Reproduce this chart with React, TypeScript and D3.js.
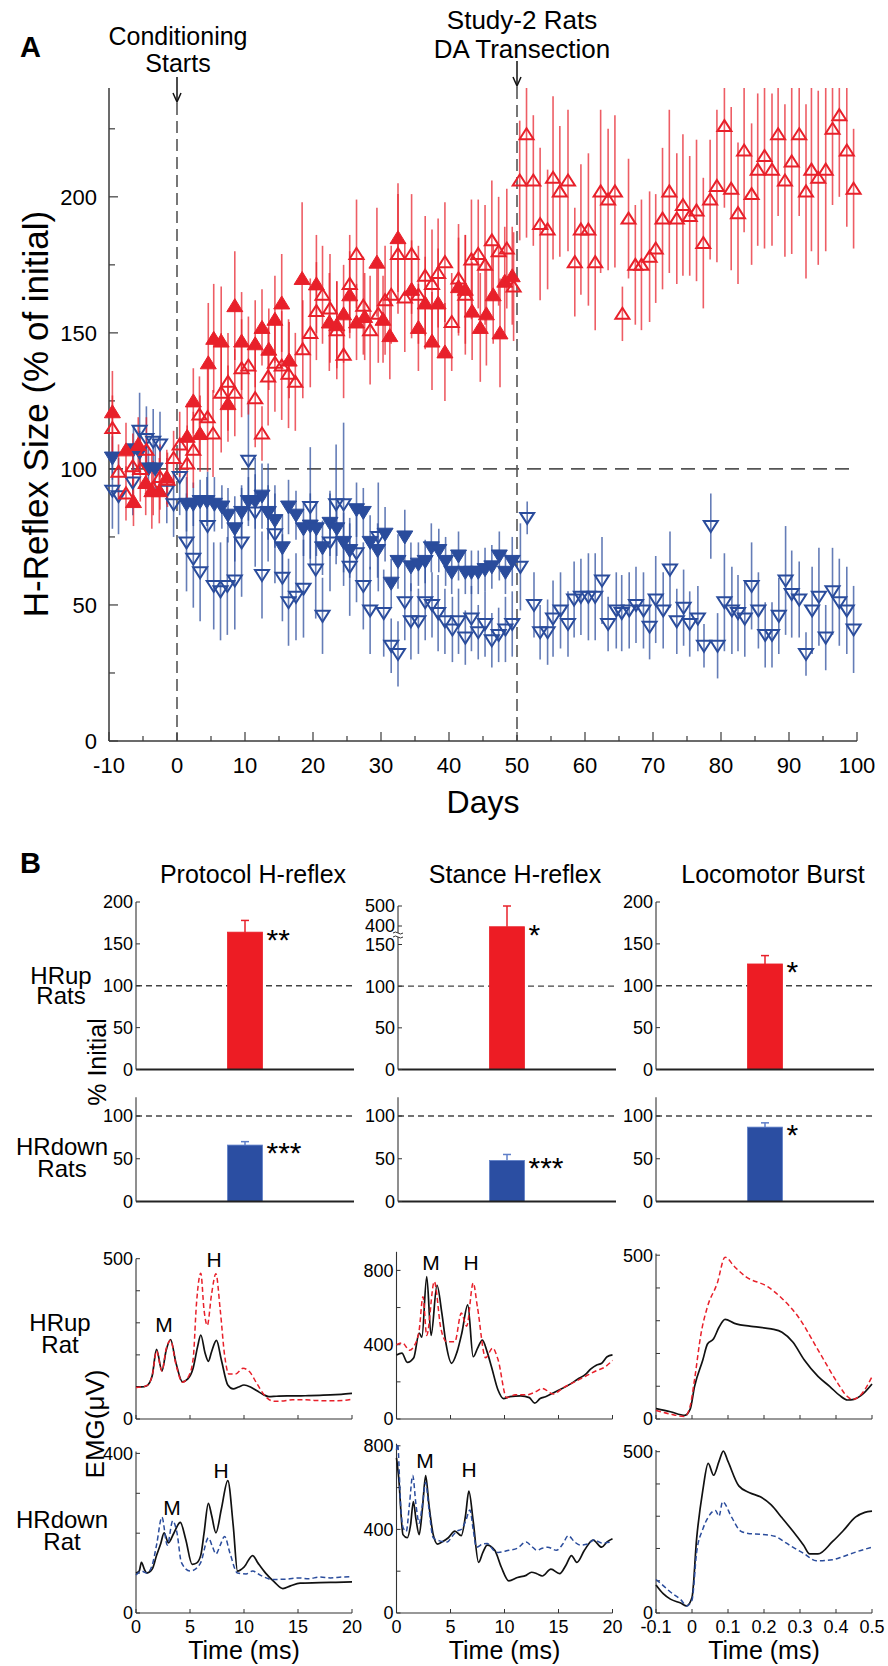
import React from 'react';
import * as d3 from 'd3';

const FONT = "'Liberation Sans', Arial, Helvetica, sans-serif";
const RED = '#e8202a';
const BLUE = '#2a4c9c';

// ---------- Panel A: [day, H-reflex size (% of initial), SE] ----------
const upFilled = [
  [-9.5, 121, 15], [-7.5, 107, 10], [-6.4, 88, 9], [-5.7, 109, 10], [-4.6, 95, 12], [-3.7, 92, 14], [-2.6, 92, 12], [-1.5, 97, 10],
  [1.5, 112, 12], [2.4, 125, 12], [3.4, 113, 14], [4.6, 139, 22], [5.4, 148, 20], [6.5, 147, 20], [7.5, 124, 14], [8.5, 160, 20],
  [9.5, 147, 18], [11.5, 146, 16], [12.5, 152, 14], [13.5, 144, 15], [14.4, 155, 16], [15.4, 161, 18], [16.5, 140, 14], [18.4, 170, 28],
  [20.5, 168, 18], [22.4, 154, 18], [23.5, 153, 16], [24.5, 157, 18], [25.4, 164, 16], [26.4, 154, 14], [27.6, 156, 16], [29.4, 176, 20],
  [30.3, 155, 16], [31.3, 149, 16], [32.5, 185, 20], [34.5, 166, 18], [35.5, 152, 16], [36.5, 161, 17], [37.5, 147, 18], [38.4, 161, 20],
  [39.4, 143, 18], [41.4, 167, 18], [42.4, 166, 20], [43.4, 158, 18], [44.6, 152, 20], [45.5, 157, 19], [46.5, 164, 18], [47.5, 150, 20],
  [48.2, 169, 20], [49.3, 171, 18],
];

const upOpen = [
  [-9.5, 115, 12], [-8.6, 99, 10], [-7.5, 91, 10], [-6.5, 101, 12], [-5.4, 100, 12], [-4.5, 107, 12], [-3.5, 93, 10], [-2.5, 97, 12],
  [-1.4, 96, 10], [-0.5, 104, 10], [0.4, 109, 12], [1.5, 102, 14], [2.4, 107, 14], [3.3, 120, 14], [4.5, 119, 20], [5.3, 113, 16],
  [6.5, 128, 22], [7.5, 132, 18], [8.5, 128, 16], [9.5, 137, 18], [10.5, 138, 18], [11.5, 126, 18], [12.5, 113, 10], [13.4, 134, 18],
  [14.4, 139, 18], [15.4, 138, 20], [16.4, 135, 20], [17.4, 132, 18], [18.5, 144, 18], [19.6, 150, 20], [20.5, 158, 18], [21.4, 164, 18],
  [22.5, 159, 20], [23.5, 151, 18], [24.5, 142, 16], [25.4, 168, 18], [26.4, 179, 20], [27.4, 160, 18], [28.4, 151, 20], [29.6, 157, 18],
  [30.6, 162, 20], [31.5, 164, 18], [32.5, 179, 22], [33.5, 163, 20], [34.5, 179, 22], [35.5, 164, 18], [36.5, 171, 22], [37.5, 168, 20],
  [38.4, 172, 20], [39.4, 176, 22], [40.4, 154, 18], [41.4, 170, 20], [42.4, 164, 22], [43.3, 177, 22], [44.3, 179, 20], [45.3, 175, 22],
  [46.3, 184, 22], [47.3, 180, 20], [48.5, 181, 22], [49.5, 167, 20], [50.4, 206, 22], [51.4, 223, 38], [52.4, 206, 24], [53.4, 190, 28],
  [54.5, 188, 22], [55.3, 207, 30], [56.3, 202, 24], [57.5, 206, 26], [58.5, 176, 20], [59.4, 188, 24], [60.5, 188, 28], [61.5, 176, 25],
  [62.3, 202, 30], [63.4, 199, 26], [64.4, 202, 28], [65.5, 157, 10], [66.4, 192, 22], [67.4, 175, 22], [68.3, 175, 24], [69.5, 178, 24],
  [70.4, 181, 20], [71.4, 192, 26], [72.4, 202, 30], [73.5, 192, 24], [74.4, 197, 26], [75.4, 193, 22], [76.4, 195, 26], [77.4, 183, 24],
  [78.4, 199, 22], [79.4, 204, 28], [80.5, 226, 30], [81.5, 203, 30], [82.5, 194, 26], [83.4, 217, 30], [84.5, 201, 26], [85.4, 210, 28],
  [86.4, 215, 34], [87.5, 210, 28], [88.4, 223, 30], [89.4, 206, 28], [90.4, 213, 34], [91.5, 223, 30], [92.5, 202, 32], [93.3, 210, 30],
  [94.3, 207, 32], [95.4, 210, 30], [96.4, 225, 28], [97.4, 230, 30], [98.5, 217, 28], [99.5, 203, 22],
];

const downFilled = [
  [-9.5, 104, 8], [-6.4, 107, 9], [-5.5, 106, 8], [-4.2, 100, 8], [-3.2, 100, 9],
  [1.4, 87, 10], [2.4, 87, 8], [3.4, 88, 8], [4.4, 88, 9], [5.5, 87, 10], [6.6, 86, 8], [7.5, 83, 10], [8.5, 78, 12],
  [9.5, 84, 10], [10.5, 88, 9], [11.5, 88, 10], [12.5, 90, 12], [13.4, 84, 10], [14.4, 81, 10], [15.5, 71, 12], [16.4, 86, 10],
  [17.5, 83, 9], [18.6, 78, 10], [19.6, 79, 12], [20.5, 78, 10], [21.4, 71, 10], [22.5, 80, 12], [23.5, 78, 10], [24.5, 73, 11],
  [25.4, 70, 10], [26.4, 85, 10], [27.4, 84, 9], [28.4, 73, 10], [29.5, 70, 10], [30.6, 76, 10], [31.5, 58, 9], [32.5, 66, 10],
  [33.5, 75, 10], [34.4, 64, 9], [35.5, 65, 8], [36.5, 66, 8], [37.4, 71, 9], [38.5, 70, 8], [39.5, 66, 9], [40.4, 62, 8],
  [41.4, 68, 9], [42.4, 62, 8], [43.3, 62, 8], [44.3, 62, 8], [45.3, 63, 8], [46.3, 64, 8], [47.4, 68, 9], [48.3, 62, 8], [49.3, 66, 9],
];

const downOpen = [
  [-9.5, 92, 14], [-8.6, 90, 14], [-6.5, 95, 12], [-5.5, 114, 14], [-4.5, 111, 12], [-3.5, 110, 12], [-2.5, 109, 12], [-1.5, 92, 12],
  [-0.5, 87, 12], [0.4, 97, 14], [1.4, 73, 18], [2.4, 67, 18], [3.4, 62, 18], [4.5, 79, 20], [5.4, 57, 16], [6.4, 55, 18],
  [7.4, 57, 18], [8.5, 59, 18], [9.5, 73, 20], [10.5, 103, 22], [11.5, 84, 20], [12.5, 61, 16], [13.4, 84, 18], [14.4, 76, 18],
  [15.5, 60, 16], [16.4, 51, 16], [17.5, 53, 16], [18.6, 56, 18], [19.6, 86, 22], [20.4, 63, 18], [21.4, 46, 14], [22.5, 73, 18],
  [23.4, 87, 22], [24.5, 87, 30], [25.4, 64, 18], [26.4, 69, 18], [27.4, 57, 16], [28.4, 48, 16], [29.6, 75, 20], [30.4, 47, 16],
  [31.5, 35, 10], [32.5, 32, 12], [33.5, 51, 14], [34.4, 44, 14], [35.5, 44, 12], [36.5, 51, 14], [37.5, 50, 12], [38.4, 47, 14],
  [39.4, 44, 12], [40.5, 41, 12], [41.4, 44, 12], [42.4, 38, 10], [43.3, 45, 12], [44.3, 40, 10], [45.3, 43, 12], [46.3, 37, 10],
  [47.3, 39, 10], [48.3, 41, 12], [49.3, 43, 12], [50.5, 64, 16], [51.5, 82, 6], [52.5, 50, 12], [53.4, 40, 10], [54.5, 40, 12],
  [55.3, 45, 14], [56.4, 48, 14], [57.5, 43, 12], [58.4, 52, 14], [59.4, 53, 14], [60.5, 53, 16], [61.5, 53, 16], [62.5, 59, 16],
  [63.4, 43, 10], [64.6, 48, 14], [65.4, 47, 14], [66.5, 48, 14], [67.5, 50, 14], [68.6, 48, 14], [69.5, 42, 12], [70.4, 52, 16],
  [71.5, 48, 14], [72.5, 63, 14], [73.5, 44, 12], [74.5, 49, 14], [75.4, 43, 12], [76.6, 45, 12], [77.5, 35, 8], [78.5, 79, 12],
  [79.5, 35, 12], [80.5, 51, 18], [81.6, 48, 16], [82.5, 47, 14], [83.5, 45, 14], [84.5, 57, 16], [85.5, 48, 14], [86.5, 39, 12],
  [87.5, 39, 12], [88.5, 46, 14], [89.5, 59, 20], [90.4, 54, 16], [91.5, 52, 14], [92.5, 32, 8], [93.4, 48, 16], [94.4, 53, 18],
  [95.4, 38, 12], [96.4, 55, 16], [97.4, 51, 16], [98.5, 48, 16], [99.5, 41, 16],
];

const dayTicks = [-10, 0, 10, 20, 30, 40, 50, 60, 70, 80, 90, 100];
const dayMinor = d3.range(-5, 100, 10);
const sizeTicks = [0, 50, 100, 150, 200];
const sizeMinor = [25, 75, 125, 175, 225];

// ---------- Panel B bars ----------
const measureTitles = ['Protocol H-reflex', 'Stance H-reflex', 'Locomotor Burst'];
const upMeans = [164, 390, 126];
const upSE = [14, 110, 10];
const upStars = ['**', '*', '*'];
const downMeans = [66, 48, 87];
const downSE = [4, 7, 5];
const downStars = ['***', '***', '*'];

// ---------- Panel B EMG traces: [time, EMG (uV)] ----------
const protUpBlack = [[0, 100], [0.5, 100], [1, 104], [1.5, 135], [1.9, 217], [2.4, 150], [2.8, 215], [3.2, 248], [3.7, 175], [4.3, 116], [4.8, 125], [5.3, 160], [5.7, 225], [6.0, 262], [6.4, 205], [6.7, 180], [7.0, 210], [7.45, 245], [7.9, 185], [8.5, 106], [9.0, 94], [9.5, 100], [10.0, 106], [10.6, 100], [11.2, 88], [11.8, 76], [12.3, 70], [13, 71], [14, 72], [15, 72], [16, 73], [17, 74], [18, 75], [19, 77], [20, 80]];
const protUpRed = [[0, 98], [0.5, 100], [1, 104], [1.5, 135], [1.9, 212], [2.4, 150], [2.8, 220], [3.2, 245], [3.7, 170], [4.3, 115], [4.9, 135], [5.3, 190], [5.6, 360], [6.0, 455], [6.3, 340], [6.6, 292], [7.0, 390], [7.4, 453], [7.8, 340], [8.2, 200], [8.6, 140], [9.2, 140], [9.9, 158], [10.5, 148], [11.2, 110], [12, 70], [12.8, 55], [13.5, 56], [14.5, 60], [15.5, 60], [16.5, 58], [17.5, 57], [18.5, 57], [19.3, 58], [20, 62]];
const stanceUpBlack = [[0, 345], [0.5, 355], [1.0, 305], [1.6, 330], [2.1, 463], [2.35, 440], [2.8, 766], [3.2, 450], [3.75, 720], [4.2, 570], [4.6, 400], [5.1, 300], [5.6, 360], [6.05, 463], [6.6, 614], [7.1, 335], [7.5, 380], [7.95, 425], [8.4, 360], [8.8, 280], [9.4, 156], [9.9, 110], [10.5, 120], [11.5, 125], [12.3, 115], [12.8, 85], [13.3, 110], [13.8, 120], [14.5, 140], [15.2, 160], [16, 185], [16.8, 215], [17.5, 240], [18, 270], [18.5, 290], [19, 300], [19.5, 335], [20, 345]];
const stanceUpRed = [[0, 400], [0.55, 410], [1.2, 370], [1.7, 400], [2.1, 479], [2.45, 658], [2.8, 450], [3.5, 740], [4.1, 490], [4.65, 416], [5.4, 416], [6.0, 570], [6.5, 500], [7.1, 732], [7.5, 600], [8.25, 330], [8.9, 382], [9.4, 320], [10.2, 115], [11, 130], [12, 130], [13, 150], [13.5, 165], [14.5, 135], [15.5, 170], [16.5, 200], [17.5, 230], [18.5, 260], [19.3, 280], [20, 315]];
const locoUpBlack = [[-0.1, 32], [-0.06, 22], [-0.02, 11], [-0.005, 30], [0.007, 99], [0.03, 180], [0.043, 229], [0.06, 245], [0.075, 280], [0.092, 304], [0.118, 292], [0.171, 282], [0.22, 275], [0.25, 265], [0.28, 235], [0.312, 180], [0.35, 130], [0.383, 99], [0.41, 72], [0.432, 58], [0.45, 60], [0.47, 72], [0.5, 107]];
const locoUpRed = [[-0.1, 26], [-0.06, 15], [-0.02, 8], [-0.005, 40], [0.007, 120], [0.025, 260], [0.043, 343], [0.07, 414], [0.092, 494], [0.118, 465], [0.15, 434], [0.21, 404], [0.25, 368], [0.295, 312], [0.35, 211], [0.405, 109], [0.43, 70], [0.445, 60], [0.47, 75], [0.5, 129]];
const protDownBlack = [[0, 100], [0.3, 105], [0.5, 127], [0.8, 108], [1.0, 100], [1.5, 110], [1.9, 144], [2.3, 175], [2.6, 201], [3.0, 176], [3.5, 200], [4.1, 227], [4.6, 185], [5.2, 122], [5.6, 125], [6.0, 145], [6.3, 200], [6.7, 275], [7.0, 245], [7.4, 201], [7.9, 260], [8.5, 332], [9.0, 220], [9.4, 105], [10.0, 115], [10.8, 144], [11.3, 125], [12, 100], [12.8, 78], [13.6, 61], [14.3, 68], [15.2, 75], [17, 76], [18.5, 77], [20, 78]];
const protDownBlue = [[0, 95], [0.5, 105], [1.0, 100], [1.5, 120], [1.9, 170], [2.4, 240], [2.9, 170], [3.4, 231], [3.8, 200], [4.2, 127], [5.0, 105], [5.5, 110], [6.0, 127], [6.7, 188], [7.1, 165], [7.4, 148], [7.8, 170], [8.2, 192], [8.7, 150], [9.4, 100], [10.2, 98], [10.8, 105], [11.5, 95], [12.6, 84], [14, 85], [15, 88], [16, 86], [17, 90], [18, 88], [19, 90], [20, 91]];
const stanceDownBlack = [[0, 742], [0.2, 650], [0.6, 375], [1.0, 360], [1.3, 420], [1.56, 533], [1.8, 450], [2.1, 375], [2.4, 500], [2.7, 658], [3.0, 520], [3.4, 375], [3.8, 330], [4.2, 340], [4.8, 360], [5.4, 392], [6.0, 370], [6.4, 470], [6.7, 583], [7.1, 440], [7.6, 242], [8.0, 290], [8.4, 325], [9.1, 300], [9.7, 220], [10.4, 154], [11.2, 170], [12.0, 180], [12.5, 195], [13.0, 188], [13.5, 177], [14.3, 210], [15.1, 188], [15.7, 230], [16.2, 275], [16.7, 242], [17.4, 300], [18.2, 349], [19, 315], [19.5, 340], [20, 355]];
const stanceDownBlue = [[0, 780], [0.1, 810], [0.4, 500], [0.6, 410], [0.9, 390], [1.2, 520], [1.5, 658], [1.8, 520], [2.1, 430], [2.4, 520], [2.7, 625], [3.0, 500], [3.4, 360], [4.0, 345], [4.7, 340], [5.2, 370], [5.6, 392], [6.0, 400], [6.4, 440], [6.8, 493], [7.1, 400], [7.4, 315], [8.0, 330], [8.4, 332], [9.0, 300], [9.4, 290], [10.4, 300], [11.2, 310], [12.0, 340], [12.5, 320], [13, 300], [13.5, 310], [14, 315], [14.8, 300], [15.4, 330], [15.9, 370], [16.5, 340], [17, 325], [17.7, 330], [18.3, 350], [19, 335], [20, 340]];
const locoDownBlack = [[-0.1, 87], [-0.08, 60], [-0.06, 43], [-0.03, 30], [-0.015, 22], [0, 48], [0.013, 232], [0.03, 380], [0.045, 464], [0.06, 427], [0.075, 470], [0.087, 502], [0.1, 470], [0.13, 394], [0.16, 373], [0.19, 360], [0.22, 335], [0.25, 295], [0.28, 254], [0.31, 210], [0.327, 183], [0.35, 183], [0.39, 221], [0.42, 255], [0.454, 297], [0.48, 312], [0.5, 316]];
const locoDownBlue = [[-0.1, 104], [-0.08, 85], [-0.06, 65], [-0.03, 40], [-0.015, 22], [0, 40], [0.013, 189], [0.03, 260], [0.045, 297], [0.065, 318], [0.075, 300], [0.085, 345], [0.11, 297], [0.135, 254], [0.16, 246], [0.19, 244], [0.23, 238], [0.26, 218], [0.28, 204], [0.31, 185], [0.345, 162], [0.39, 165], [0.42, 175], [0.455, 189], [0.5, 204]];

const msTicks = [0, 5, 10, 15, 20];
const locoTicks = [-0.1, 0, 0.1, 0.2, 0.3, 0.4, 0.5];

// ---------- Panel A ----------
const xA = d3.scaleLinear().domain([-10, 100]).range([109, 857]);
const yA = d3.scaleLinear().domain([0, 240]).range([741, 88]);

const TRI_UP = 'M0,-7L8,6L-8,6Z';
const TRI_DOWN = 'M0,7L8,-6L-8,-6Z';
const TRI_UP_O = 'M0,-6L7,5L-7,5Z';
const TRI_DOWN_O = 'M0,6L7,-5L-7,-5Z';

function Series({ data, color, up, filled }) {
  const path = up ? (filled ? TRI_UP : TRI_UP_O) : (filled ? TRI_DOWN : TRI_DOWN_O);
  return (
    <g>
      {data.map((d, i) => (
        <path key={i} transform={`translate(${xA(d[0])},${yA(d[1])})`} d={path}
          fill={filled ? color : 'none'} stroke={color} strokeWidth={filled ? 1 : 2} strokeLinejoin="miter" />
      ))}
    </g>
  );
}

function ErrBars({ data, color }) {
  return (
    <g stroke={color} strokeWidth={1.6} opacity={0.72}>
      {data.map((d, i) => (
        <line key={i} x1={xA(d[0])} x2={xA(d[0])}
          y1={yA(Math.min(240, d[1] + d[2]))} y2={yA(Math.max(0, d[1] - d[2]))} />
      ))}
    </g>
  );
}

function PanelA() {
  const axisColor = '#3a3a3a';
  return (
    <g fontFamily={FONT}>
      <text x={20} y={57} fontSize={29} fontWeight="bold">A</text>
      {/* annotations */}
      <text x={178} y={45} fontSize={25} textAnchor="middle">Conditioning</text>
      <text x={178} y={72} fontSize={25} textAnchor="middle">Starts</text>
      <line x1={xA(0)} x2={xA(0)} y1={77} y2={101} stroke="#111" strokeWidth={1.5} />
      <path d={`M${xA(0) - 4},${93}L${xA(0)},${102}L${xA(0) + 4},${93}`} fill="none" stroke="#111" strokeWidth={1.5} />
      <text x={522} y={29} fontSize={26} textAnchor="middle">Study-2 Rats</text>
      <text x={522} y={57.5} fontSize={26} textAnchor="middle">DA Transection</text>
      <line x1={xA(50)} x2={xA(50)} y1={61} y2={85} stroke="#111" strokeWidth={1.5} />
      <path d={`M${xA(50) - 4},${77}L${xA(50)},${86}L${xA(50) + 4},${77}`} fill="none" stroke="#111" strokeWidth={1.5} />

      {/* reference lines */}
      <line x1={xA(-10)} x2={xA(100)} y1={yA(100)} y2={yA(100)} stroke="#555" strokeWidth={1.6} strokeDasharray="14,8" />
      <line x1={xA(0)} x2={xA(0)} y1={103} y2={yA(0)} stroke="#555" strokeWidth={1.6} strokeDasharray="12,6" />
      <line x1={xA(50)} x2={xA(50)} y1={87} y2={yA(0)} stroke="#555" strokeWidth={1.6} strokeDasharray="12,6" />

      {/* axes */}
      <line x1={xA(-10)} x2={xA(-10)} y1={yA(240)} y2={yA(0)} stroke={axisColor} strokeWidth={1.5} />
      <line x1={xA(-10)} x2={xA(100)} y1={yA(0)} y2={yA(0)} stroke={axisColor} strokeWidth={1.5} />
      {sizeTicks.map(t => (
        <g key={t}>
          <line x1={xA(-10)} x2={xA(-10) + 9} y1={yA(t)} y2={yA(t)} stroke={axisColor} strokeWidth={1.2} />
          <text x={97} y={yA(t)} dy="0.36em" fontSize={22} textAnchor="end">{t}</text>
        </g>
      ))}
      {sizeMinor.map(t => (
        <line key={t} x1={xA(-10)} x2={xA(-10) + 6} y1={yA(t)} y2={yA(t)} stroke={axisColor} strokeWidth={1.2} />
      ))}
      {dayTicks.map(t => (
        <g key={t}>
          <line x1={xA(t)} x2={xA(t)} y1={yA(0)} y2={yA(0) - 9} stroke={axisColor} strokeWidth={1.2} />
          <text x={xA(t)} y={773} fontSize={22} textAnchor="middle">{t}</text>
        </g>
      ))}
      {dayMinor.map(t => (
        <line key={t} x1={xA(t)} x2={xA(t)} y1={yA(0)} y2={yA(0) - 5} stroke={axisColor} strokeWidth={1.2} />
      ))}
      <text x={483} y={813} fontSize={32} textAnchor="middle">Days</text>
      <text transform="translate(48,414) rotate(-90)" fontSize={35} textAnchor="middle">H-Reflex Size (% of initial)</text>

      {/* data */}
      <ErrBars data={downOpen} color={BLUE} />
      <ErrBars data={downFilled} color={BLUE} />
      <ErrBars data={upOpen} color={RED} />
      <ErrBars data={upFilled} color={RED} />
      <Series data={downOpen} color={BLUE} up={false} filled={false} />
      <Series data={downFilled} color={BLUE} up={false} filled={true} />
      <Series data={upFilled} color={RED} up={true} filled={true} />
      <Series data={upOpen} color={RED} up={true} filled={false} />
    </g>
  );
}

// ---------- Panel B bars ----------
const colX = [136, 398, 656];
const PW = 218;

const yUpStd = d3.scaleLinear().domain([0, 200]).range([1069.5, 902]);
const yUpStance = d3.scaleLinear().domain([0, 150, 400, 500]).range([1069.5, 944.5, 926, 906]);
const yDown = d3.scaleLinear().domain([0, 100]).range([1201.5, 1116]);

function BarPanel({ x0, y, axisTopVal, ticks, mean, se, color, errColor, stars, broken }) {
  const x = d3.scaleLinear().domain([0, 2]).range([x0, x0 + PW]);
  const bw = 35;
  const top = y(mean);
  const cx = x(1);
  return (
    <g fontFamily={FONT}>
      <line x1={x(0)} x2={x(2)} y1={y(100)} y2={y(100)} stroke="#444" strokeWidth={1.3} strokeDasharray="6,4" />
      <rect x={cx - bw / 2} y={top} width={bw} height={y(0) - top} fill={color} stroke={errColor} strokeWidth={0.8} />
      <line x1={cx} x2={cx} y1={top} y2={y(mean + se)} stroke={errColor} strokeWidth={1.5} />
      <line x1={cx - 4} x2={cx + 4} y1={y(mean + se)} y2={y(mean + se)} stroke={errColor} strokeWidth={1.5} />
      <text x={cx + bw / 2 + 4} y={top + 18} fontSize={30}>{stars}</text>
      <line x1={x0} x2={x0} y1={y(axisTopVal)} y2={y(0)} stroke="#333" strokeWidth={1.1} />
      <line x1={x0} x2={x(2)} y1={y(0)} y2={y(0)} stroke="#222" strokeWidth={2} />
      {ticks.map(t => (
        <g key={t}>
          <line x1={x0} x2={x0 + 4} y1={y(t)} y2={y(t)} stroke="#333" strokeWidth={1} />
          <text x={x0 - 3} y={y(t)} dy="0.36em" fontSize={18} textAnchor="end">{t}</text>
        </g>
      ))}
      {broken && (
        <g>
          <rect x={x0 - 4} y={933} width={8} height={4} fill="#fff" />
          <path d={`M${x0 - 5},${933}q2.5,-2 5,0t5,0M${x0 - 5},${937}q2.5,-2 5,0t5,0`} fill="none" stroke="#333" strokeWidth={1} />
        </g>
      )}
    </g>
  );
}

// ---------- Panel B EMG ----------
const emgX0 = [136, 396.5, 656];
const EW = 216;

function EmgPanel({ x0, y0, refVal, refY, topVal, xDomain, xTicks, yTicks, yLabels, traces, showX, marks }) {
  const x = d3.scaleLinear().domain(xDomain).range([x0, x0 + EW]);
  const y = d3.scaleLinear().domain([0, refVal]).range([y0, refY]);
  const line = d3.line().x(d => x(d[0])).y(d => y(d[1])).curve(d3.curveMonotoneX);
  return (
    <g fontFamily={FONT}>
      <line x1={x0} x2={x0} y1={y(topVal)} y2={y0} stroke="#333" strokeWidth={1.1} />
      <line x1={x0} x2={x0 + EW} y1={y0} y2={y0} stroke="#333" strokeWidth={1.1} />
      {yTicks.map(t => (
        <line key={t} x1={x0} x2={x0 + 4} y1={y(t)} y2={y(t)} stroke="#333" strokeWidth={1} />
      ))}
      {yLabels.map(t => (
        <text key={t} x={x0 - 3} y={y(t)} dy="0.36em" fontSize={18} textAnchor="end">{t}</text>
      ))}
      {xTicks.map(t => (
        <g key={t}>
          <line x1={x(t)} x2={x(t)} y1={y0} y2={y0 - 4} stroke="#333" strokeWidth={1} />
          {showX && <text x={x(t)} y={1633} fontSize={18} textAnchor="middle">{t}</text>}
        </g>
      ))}
      {traces.map((tr, i) => (
        <path key={i} d={line(tr.data)} fill="none" stroke={tr.color} strokeWidth={tr.dash ? 1.5 : 1.7}
          strokeDasharray={tr.dash ? '5,3' : undefined} />
      ))}
      {marks.map((m, i) => (
        <text key={i} x={m[0]} y={m[1]} fontSize={21} textAnchor="middle">{m[2]}</text>
      ))}
      {showX && <text x={x0 + EW / 2} y={1659} fontSize={25} textAnchor="middle">Time (ms)</text>}
    </g>
  );
}

function PanelB() {
  return (
    <g fontFamily={FONT}>
      <text x={20} y={873} fontSize={29} fontWeight="bold">B</text>
      {measureTitles.map((t, i) => (
        <text key={t} x={colX[i] + 117} y={883} fontSize={25} textAnchor="middle">{t}</text>
      ))}
      <text x={61} y={984} fontSize={24} textAnchor="middle">HRup</text>
      <text x={61} y={1004} fontSize={24} textAnchor="middle">Rats</text>
      <text x={62} y={1155} fontSize={24} textAnchor="middle">HRdown</text>
      <text x={62} y={1177} fontSize={24} textAnchor="middle">Rats</text>
      <text transform="translate(106,1062) rotate(-90)" fontSize={25} textAnchor="middle">% Initial</text>

      {[0, 1, 2].map(i => (
        <BarPanel key={'u' + i} x0={colX[i]} y={i === 1 ? yUpStance : yUpStd} axisTopVal={i === 1 ? 500 : 200}
          ticks={i === 1 ? [0, 50, 100, 150, 400, 500] : [0, 50, 100, 150, 200]}
          mean={upMeans[i]} se={upSE[i]} color="#ed1c24" errColor={RED} stars={upStars[i]} broken={i === 1} />
      ))}
      {[0, 1, 2].map(i => (
        <BarPanel key={'d' + i} x0={colX[i]} y={yDown} axisTopVal={122} ticks={[0, 50, 100]}
          mean={downMeans[i]} se={downSE[i]} color="#2b4ea2" errColor="#5f7fc8" stars={downStars[i]} broken={false} />
      ))}

      <text x={60} y={1331} fontSize={24} textAnchor="middle">HRup</text>
      <text x={60} y={1353} fontSize={24} textAnchor="middle">Rat</text>
      <text x={62} y={1528} fontSize={24} textAnchor="middle">HRdown</text>
      <text x={62} y={1550} fontSize={24} textAnchor="middle">Rat</text>
      <text transform="translate(104,1424) rotate(-90)" fontSize={26} textAnchor="middle">EMG(μV)</text>

      <EmgPanel x0={emgX0[0]} y0={1419} refVal={500} refY={1258.7} topVal={500} xDomain={[0, 20]} xTicks={msTicks}
        yTicks={[0, 100, 200, 300, 400, 500]} yLabels={[0, 500]} showX={false}
        traces={[{ data: protUpBlack, color: '#111' }, { data: protUpRed, color: RED, dash: true }]}
        marks={[[164, 1332, 'M'], [214, 1267, 'H']]} />
      <EmgPanel x0={emgX0[1]} y0={1419} refVal={800} refY={1270.4} topVal={900} xDomain={[0, 20]} xTicks={msTicks}
        yTicks={[0, 200, 400, 600, 800]} yLabels={[0, 400, 800]} showX={false}
        traces={[{ data: stanceUpBlack, color: '#111' }, { data: stanceUpRed, color: RED, dash: true }]}
        marks={[[431, 1270, 'M'], [471, 1270, 'H']]} />
      <EmgPanel x0={emgX0[2]} y0={1419} refVal={500} refY={1255.2} topVal={505} xDomain={[-0.1, 0.5]} xTicks={locoTicks}
        yTicks={[0, 100, 200, 300, 400, 500]} yLabels={[0, 500]} showX={false}
        traces={[{ data: locoUpBlack, color: '#111' }, { data: locoUpRed, color: RED, dash: true }]}
        marks={[]} />

      <EmgPanel x0={emgX0[0]} y0={1613} refVal={400} refY={1453.4} topVal={405} xDomain={[0, 20]} xTicks={msTicks}
        yTicks={[0, 100, 200, 300, 400]} yLabels={[0, 400]} showX={true}
        traces={[{ data: protDownBlack, color: '#111' }, { data: protDownBlue, color: BLUE, dash: true }]}
        marks={[[172, 1515, 'M'], [221, 1478, 'H']]} />
      <EmgPanel x0={emgX0[1]} y0={1613} refVal={800} refY={1445.8} topVal={810} xDomain={[0, 20]} xTicks={msTicks}
        yTicks={[0, 200, 400, 600, 800]} yLabels={[0, 400, 800]} showX={true}
        traces={[{ data: stanceDownBlack, color: '#111' }, { data: stanceDownBlue, color: BLUE, dash: true }]}
        marks={[[425, 1468, 'M'], [469, 1477, 'H']]} />
      <EmgPanel x0={emgX0[2]} y0={1613} refVal={500} refY={1451.7} topVal={505} xDomain={[-0.1, 0.5]} xTicks={locoTicks}
        yTicks={[0, 100, 200, 300, 400, 500]} yLabels={[0, 500]} showX={true}
        traces={[{ data: locoDownBlack, color: '#111' }, { data: locoDownBlue, color: BLUE, dash: true }]}
        marks={[]} />
    </g>
  );
}

export default function App() {
  return (
    <svg width={888} height={1666} style={{ position: 'absolute', left: 0, top: 0, background: '#fff' }}>
      <rect width={888} height={1666} fill="#fff" />
      <PanelA />
      <PanelB />
    </svg>
  );
}
